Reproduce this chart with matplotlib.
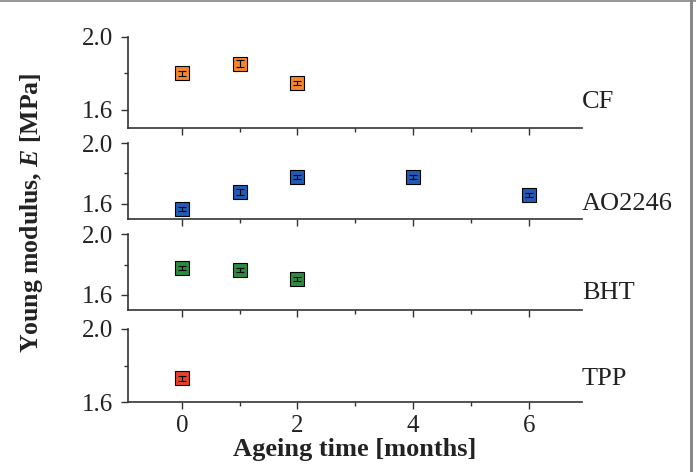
import matplotlib
matplotlib.use("Agg")
import matplotlib.pyplot as plt
from matplotlib.ticker import MultipleLocator
from matplotlib.patches import Rectangle

plt.rcParams['font.family'] = ['Liberation Serif', 'DejaVu Serif']
plt.rcParams['mathtext.fontset'] = 'custom'
plt.rcParams['mathtext.it'] = 'Liberation Serif:italic:bold'
plt.rcParams['mathtext.bf'] = 'Liberation Serif:bold'

# ageing time [months] and Young modulus [MPa] per formulation
labels = ["CF", "AO2246", "BHT", "TPP"]
colors = ["#F7842F", "#1F5CB8", "#2E8A40", "#E8412B"]

cf_t = [0, 1, 2]
cf_E = [1.80, 1.852, 1.748]
cf_err = [0.015, 0.02, 0.01]

ao_t = [0, 1, 2, 4, 6]
ao_E = [1.567, 1.679, 1.777, 1.777, 1.659]
ao_err = [0.015, 0.02, 0.015, 0.015, 0.015]

bht_t = [0, 1, 2]
bht_E = [1.777, 1.764, 1.705]
bht_err = [0.015, 0.015, 0.015]

tpp_t = [0]
tpp_E = [1.73]
tpp_err = [0.015]

series = [(cf_t, cf_E, cf_err), (ao_t, ao_E, ao_err),
          (bht_t, bht_E, bht_err), (tpp_t, tpp_E, tpp_err)]

fig = plt.figure(figsize=(6.96, 4.72), dpi=100)

# panel boxes [left, bottom, width, height]
boxes = [[0.184, 0.729, 0.652, 0.193],
         [0.184, 0.536, 0.652, 0.161],
         [0.184, 0.343, 0.652, 0.161],
         [0.184, 0.148, 0.652, 0.155]]
ylows = [1.5, 1.5, 1.5, 1.6]
label_y = [0.28, 0.20, 0.22, 0.32]

for i, (box, (t, E, err)) in enumerate(zip(boxes, series)):
    ax = fig.add_axes(box)
    ax.plot(t, E, 's', ms=10, mfc=colors[i], mec='black', mew=0.8,
            zorder=2, clip_on=False)
    ax.errorbar(t, E, yerr=err, fmt='none', ecolor='black', elinewidth=0.8,
                capsize=3, capthick=0.8, zorder=3, clip_on=False)
    ax.set_xlim(-0.93, 6.92)
    ax.set_ylim(ylows[i], 2.0)
    ax.set_yticks([1.6, 2.0])
    ax.set_yticklabels(["1.6", "2.0"])
    ax.yaxis.set_minor_locator(MultipleLocator(0.2))
    ax.set_xticks([0, 2, 4, 6])
    ax.xaxis.set_minor_locator(MultipleLocator(1))
    for s in ['top', 'right']:
        ax.spines[s].set_visible(False)
    for s in ['left', 'bottom']:
        ax.spines[s].set_linewidth(1.2)
        ax.spines[s].set_color('#333333')
    ax.tick_params(which='major', direction='out', length=5, width=1, pad=6,
                   labelsize=18, colors='#333333', labelcolor='#222222')
    ax.tick_params(which='minor', direction='out', length=3, width=1,
                   colors='#333333')
    if i < 3:
        ax.tick_params(axis='x', labelbottom=False)
    else:
        ax.tick_params(axis='x', pad=4)
        ax.set_xticklabels(["0", "2", "4", "6"])
        ax.set_xlabel("Ageing time [months]", fontsize=19, fontweight='bold',
                      labelpad=1, color='#222222')
    ax.text(1.0, label_y[i], labels[i], transform=ax.transAxes, fontsize=19,
            ha='left', va='center', color='#222222')

fig.text(0.045, 0.55, r"Young modulus, $\mathit{E}$ [MPa]", rotation=90,
         ha='center', va='center', fontsize=18.5, fontweight='bold', color='#222222')

# grey frame edges on top and right
fig.add_artist(Rectangle((0, 0.996), 1, 0.004, transform=fig.transFigure,
                         color='#999999', lw=0))
fig.add_artist(Rectangle((0.991, 0), 0.004, 1, transform=fig.transFigure,
                         color='#888888', lw=0))

fig.savefig("out.png", dpi=100)
